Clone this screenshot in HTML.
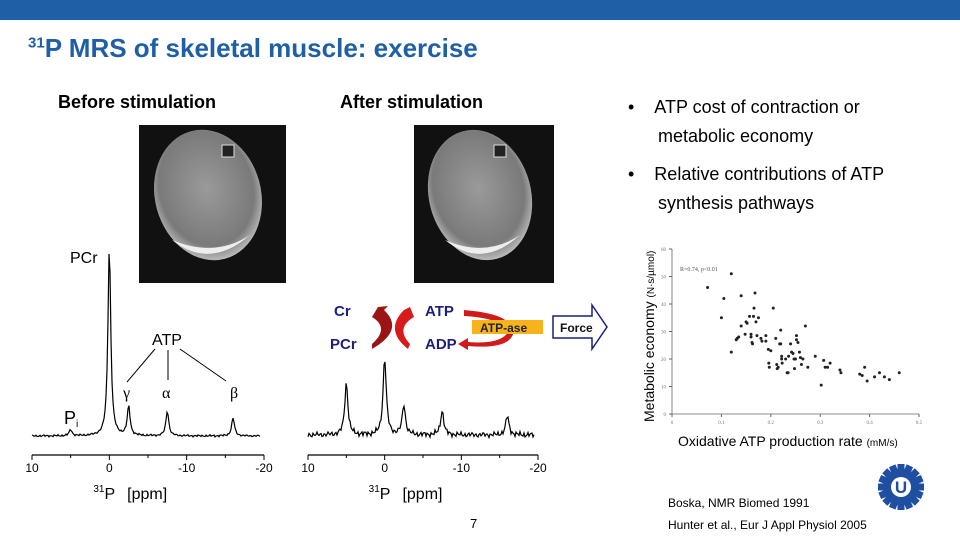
<!DOCTYPE html>
<html><head><meta charset="utf-8">
<style>
body{margin:0;width:960px;height:540px;overflow:hidden;background:#fff;font-family:"Liberation Sans",sans-serif;position:relative}
.a{position:absolute;white-space:nowrap}
</style></head><body>
<div class="a" style="left:0;top:0;width:960px;height:20px;background:#1f5fa6"></div>
<div class="a" style="left:28px;top:33px;font-size:26px;font-weight:bold;color:#1f5fa6"><sup style="font-size:15px">31</sup>P MRS of skeletal muscle: exercise</div>
<div class="a" style="left:58px;top:92px;font-size:18px;font-weight:bold">Before stimulation</div>
<div class="a" style="left:340px;top:92px;font-size:18px;font-weight:bold">After stimulation</div>
<div class="a" style="left:628px;top:93px;font-size:18px;line-height:29px">•&nbsp;&nbsp;&nbsp;&nbsp;ATP cost of contraction or<br>&nbsp;&nbsp;&nbsp;&nbsp;&nbsp;&nbsp;metabolic economy</div>
<div class="a" style="left:628px;top:160px;font-size:18px;line-height:29px">•&nbsp;&nbsp;&nbsp;&nbsp;Relative contributions of ATP<br>&nbsp;&nbsp;&nbsp;&nbsp;&nbsp;&nbsp;synthesis pathways</div>
<div class="a" style="left:668px;top:496px;font-size:12px">Boska, NMR Biomed 1991</div>
<div class="a" style="left:668px;top:518px;font-size:12px">Hunter et al., Eur J Appl Physiol 2005</div>
<div class="a" style="left:470px;top:516px;font-size:13px">7</div>

<svg class="a" style="left:0;top:0" width="960" height="540">
<defs>
<radialGradient id="leg" cx="50%" cy="45%" r="55%"><stop offset="0" stop-color="#9a9a9a"/><stop offset="0.8" stop-color="#7a7a7a"/><stop offset="1" stop-color="#bbb"/></radialGradient>
</defs>
<g>
<rect x="139" y="125" width="147" height="158" fill="#111"/>
<ellipse cx="208" cy="195" rx="53" ry="66" fill="url(#leg)" transform="rotate(-15 208 195)"/>
<path d="M172 240 Q210 270 250 235 Q215 258 172 240Z" fill="#eee"/>
<rect x="222" y="145" width="12" height="12" fill="#222" stroke="#ddd"/>
</g>
<g>
<rect x="414" y="125" width="140" height="158" fill="#111"/>
<ellipse cx="480" cy="195" rx="51" ry="66" fill="url(#leg)" transform="rotate(-15 480 195)"/>
<path d="M445 240 Q482 270 520 235 Q486 258 445 240Z" fill="#eee"/>
<rect x="494" y="145" width="12" height="12" fill="#222" stroke="#ddd"/>
</g>
<g id="specL"></g>
<g id="specR"></g>
<g font-family="Liberation Sans" font-size="16">
<text x="70" y="263">PCr</text>
<text x="152" y="345">ATP</text>
<line x1="155" y1="349" x2="127" y2="382" stroke="#000"/>
<line x1="168" y1="350" x2="168" y2="380" stroke="#000"/>
<line x1="180" y1="349" x2="226" y2="381" stroke="#000"/>
<text x="123" y="398" font-family="Liberation Serif">γ</text>
<text x="162" y="398" font-family="Liberation Serif">α</text>
<text x="230" y="398" font-family="Liberation Serif">β</text>
<text x="64" y="424" font-size="18">P</text><text x="76" y="427" font-size="10">i</text>
</g>
<g font-family="Liberation Sans" font-weight="bold" font-size="15" fill="#1c1f7a">
<text x="334" y="316">Cr</text><text x="330" y="349">PCr</text>
<text x="425" y="316">ATP</text><text x="425" y="349">ADP</text>
<path d="M378 307 L372 317 Q390 328 372 344 L372 349 Q405 330 384 310 L388 306Z" fill="#9b1515"/>
<path d="M410 307 L404 310 Q384 330 408 349 L410 344 Q395 328 414 317Z" fill="#d71b1b"/>
<path d="M464 310 Q510 314 510 328 L505 330 Q500 318 464 316Z" fill="#cf1b1b"/>
<path d="M510 328 Q505 345 468 342 L468 338 L458 344 L468 350 L468 346 Q515 350 514 328Z" fill="#cf1b1b"/>
<rect x="472" y="320" width="71" height="14" fill="#f7b21c"/>
<text x="480" y="332" font-size="12" fill="#222">ATP-ase</text>
<path d="M553 316 L592 316 L592 305 L607 327 L592 349 L592 338 L553 338Z" fill="#fff" stroke="#1c1f7a" stroke-width="1.5"/>
<text x="560" y="332" font-size="12" fill="#111">Force</text>
</g>
<g id="scatter"></g>
<text x="680" y="271" font-size="6" fill="#555" font-family="Liberation Serif">R=0.74, p&lt;0.01</text>
<text x="678" y="446" font-size="14" font-family="Liberation Sans">Oxidative ATP production rate <tspan font-size="10">(mM/s)</tspan></text>
<text transform="translate(654,422) rotate(-90)" font-size="14" font-family="Liberation Sans">Metabolic economy <tspan font-size="10">(N·s/µmol)</tspan></text>
</svg>
<script>
const NS='http://www.w3.org/2000/svg';
function mk(p,t,a){const e=document.createElementNS(NS,t);for(const k in a)e.setAttribute(k,a[k]);p.appendChild(e);return e;}
// spectra data
const peakPpmL=[5,0,-2.5,-7.5,-16];
const peakHtL=[6,189,29,25,18];
const peakPpmR=[5,0,-2.5,-7.5,-16];
const peakHtR=[52,77,30,24,19];
const axisTicks=[10,0,-10,-20];
function spectrum(gid,x10,x20,base,axY,ppm,ht,noise,w){
  const g=document.getElementById(gid);
  const sx=v=>x10+(10-v)/30*(x20-x10);
  let d='';
  for(let px=x10;px<=x20-4;px+=1){
    const v=10-(px-x10)/(x20-x10)*30;
    let y=0;for(let i=0;i<ppm.length;i++){const dd=(v-ppm[i])/w;y+=ht[i]/(1+dd*dd);}
    const n=noise*(Math.sin(px*1.7)+Math.sin(px*3.1+1)*0.6+Math.sin(px*0.53)*0.5);
    d+=(d?'L':'M')+px+' '+(base-y+n).toFixed(1);
  }
  const p=mk(g,'path',{d:d,fill:'none',stroke:'#000','stroke-width':1.2});
  
  
  mk(g,'line',{x1:x10,y1:axY,x2:x20,y2:axY,stroke:'#000','stroke-width':1.2});
  for(let t=10;t>=-20;t-=5){mk(g,'line',{x1:sx(t),y1:axY,x2:sx(t),y2:axY+(t%10?3:5),stroke:'#000'});}
  axisTicks.forEach(t=>{const e=mk(g,'text',{x:sx(t),y:axY+17,'text-anchor':'middle','font-size':12,'font-family':'Liberation Sans'});e.textContent=t;});
  const tt=mk(g,'text',{x:sx(0)-16,y:axY+44,'font-size':16,'font-family':'Liberation Sans'});
  tt.innerHTML='<tspan font-size="10" dy="-7">31</tspan><tspan dy="7">P</tspan><tspan dx="12">[ppm]</tspan>';
}
spectrum('specL',32,264,436,455,peakPpmL,peakHtL,0.6,0.22);
spectrum('specR',308,538,435,455,peakPpmR,peakHtR,1.6,0.25);
// scatter data
const oxRate=[0.072,0.1,0.105,0.12,0.12,0.13,0.132,0.135,0.14,0.14,0.148,0.15,0.152,0.157,0.16,0.16,0.162,0.163,0.165,0.166,0.168,0.17,0.172,0.175,0.18,0.182,0.19,0.19,0.195,0.196,0.197,0.2,0.205,0.21,0.212,0.213,0.215,0.218,0.22,0.22,0.222,0.222,0.223,0.23,0.233,0.235,0.236,0.24,0.242,0.245,0.247,0.248,0.25,0.252,0.252,0.255,0.258,0.26,0.262,0.265,0.27,0.275,0.29,0.302,0.307,0.31,0.315,0.32,0.34,0.342,0.38,0.385,0.39,0.395,0.41,0.42,0.43,0.44,0.46];
const economy=[46,35,42,51,22.5,27,27.5,28,43,32,29,33.5,33,35.5,29,28,26,25.5,35.5,38.5,44,33.5,28.5,35,27.5,26.5,28.5,26.5,23.5,18.5,17,23,38.5,27.5,18,16.5,17,25.5,25.5,30.5,21,20,18.5,20,15,15,21,25.5,22.5,22,20,16.5,20,28.5,27,26,22.5,20.5,18,20,32,17,21,10.5,19.5,17,17,18.5,16,15,14.5,14,17,12,13.5,15,13.5,12.5,15];
const xTicks=[0,0.1,0.2,0.3,0.4,0.5];
const yTicks=[0,10,20,30,40,50,60];
(function(){
  const g=document.getElementById('scatter');
  const X=v=>672+v/0.5*247, Y=v=>414-v/60*165;
  mk(g,'line',{x1:672,y1:Y(0),x2:X(0.5),y2:Y(0),stroke:'#666','stroke-width':0.8});
  mk(g,'line',{x1:672,y1:Y(0),x2:672,y2:Y(60),stroke:'#666','stroke-width':0.8});
  xTicks.forEach(t=>{mk(g,'line',{x1:X(t),y1:414,x2:X(t),y2:417,stroke:'#666'});const e=mk(g,'text',{x:X(t),y:424,'text-anchor':'middle','font-size':5,fill:'#777','font-family':'Liberation Serif'});e.textContent=t;});
  yTicks.forEach(t=>{mk(g,'line',{x1:669,y1:Y(t),x2:672,y2:Y(t),stroke:'#666'});const e=mk(g,'text',{x:666,y:Y(t)+2,'text-anchor':'end','font-size':5,fill:'#777','font-family':'Liberation Serif'});e.textContent=t;});
  oxRate.forEach((x,i)=>{const c=mk(g,'circle',{cx:X(x),cy:Y(economy[i]),r:1.5,fill:'#222'});
    
    });
})();
</script>
<svg class="a" style="left:876px;top:462px" width="50" height="50" viewBox="-25 -25 50 50">
<g id="logo"></g>
<circle r="14" fill="#1f4fa0"/><circle r="10" fill="#fff"/>
<text x="0" y="6" text-anchor="middle" font-size="17" font-weight="bold" fill="#1f4fa0" font-family="Liberation Sans">U</text>
</svg>
<script>
(function(){const g=document.getElementById('logo');for(let i=0;i<16;i++){const a=i*22.5;mk(g,'rect',{x:-3.5,y:-23,width:7,height:10,fill:'#1f4fa0',transform:'rotate('+a+')'});}})();
</script>
</body></html>
